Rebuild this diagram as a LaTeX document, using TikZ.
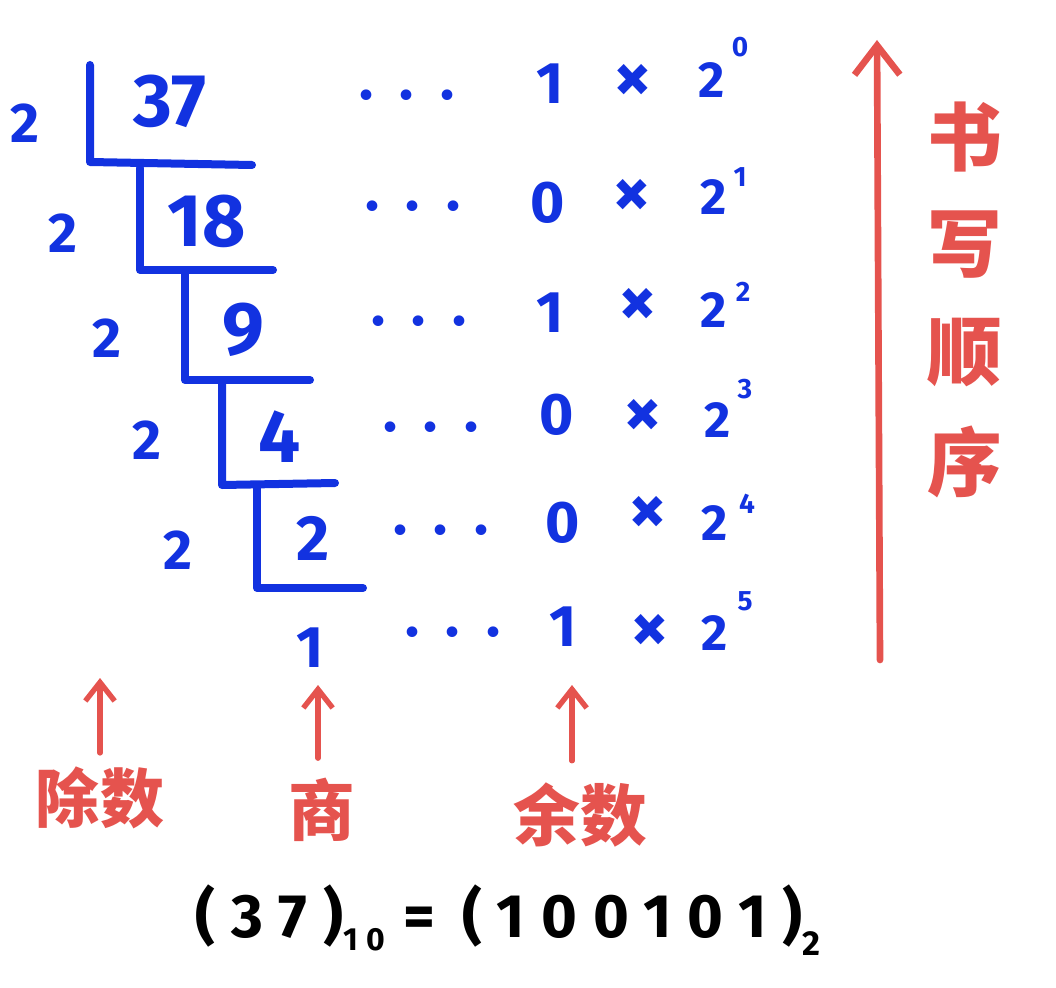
\documentclass[tikz,border=0pt]{standalone}
\usepackage{fontspec}
\usetikzlibrary{arrows.meta}
\setmainfont{Fira Sans}
\newfontfamily\cjk{Noto Sans CJK SC}
\newfontfamily\eqfont{Fira Sans}[LetterSpace=26]
\definecolor{pen}{HTML}{1232E0}
\definecolor{ink}{HTML}{E5534E}
\newcommand{\fs}[1]{\fontsize{#1}{#1}\selectfont}
\begin{document}
\begin{tikzpicture}[x=0.75pt,y=-0.75pt,
  every node/.style={inner sep=0pt,outer sep=0pt},
  divisor/.style={text=pen,font=\bfseries\fs{42}},
  quot/.style={text=pen,font=\bfseries\fs{56}},
  rem/.style={text=pen,font=\bfseries\fs{44}},
  timessign/.style={text=pen,font=\bfseries\fs{56}},
  base/.style={text=pen,font=\bfseries\fs{38}},
  sup/.style={text=pen,font=\bfseries\fs{21}},
  dotrow/.style={text=pen,font=\bfseries\fs{44},anchor=base},
  bracket/.style={draw=pen,line width=6pt,line cap=round,line join=round},
  lbl/.style={text=ink,font=\cjk\bfseries\fs{48}},
  order/.style={text=ink,font=\cjk\bfseries\fs{56}},
  bigarr/.style={draw=ink,line width=5pt,line cap=round,
    -{Straight Barb[length=22pt,width=34pt,line width=5pt]}},
  smallarr/.style={draw=ink,line width=4pt,line cap=round,
    -{Straight Barb[length=14pt,width=22pt,line width=4pt]}}
]
\useasboundingbox (0,0) rectangle (1056,988);

% division brackets
\draw[bracket] (90,65) -- (90,162) -- (252,165);
\draw[bracket] (140,168) -- (140,270) -- (273,270);
\draw[bracket] (185,273) -- (185,380) -- (310,380);
\draw[bracket] (222,383) -- (222,485) -- (335,483);
\draw[bracket] (257,487) -- (257,588) -- (363,588);

% divisors
\node[divisor] (d1) at (25,123) {2};
\node[divisor] (d2) at (63,233) {2};
\node[divisor] (d3) at (107,338) {2};
\node[divisor] (d4) at (147,440) {2};
\node[divisor] (d5) at (178,550) {2};

% quotients
\node[quot] (q1) at (170,101) {37};
\node[quot] (q2) at (207,221) {18};
\node[quot] (q3) at (243,330) {9};
\node[quot] (q4) at (280,437) {4};
\node[quot,font=\bfseries\fs{48}] (q5) at (313,538) {2};
\node[quot,font=\bfseries\fs{44}] (q6) at (310,648) {1};

% dots
\node[dotrow] (e1) at (407,100) {.\hspace{20pt}.\hspace{20pt}.};
\node[dotrow] (e2) at (413,210) {.\hspace{20pt}.\hspace{20pt}.};
\node[dotrow] (e3) at (419,325) {.\hspace{20pt}.\hspace{20pt}.};
\node[dotrow] (e4) at (431,431) {.\hspace{20pt}.\hspace{20pt}.};
\node[dotrow] (e5) at (441,534) {.\hspace{20pt}.\hspace{20pt}.};
\node[dotrow] (e6) at (453,636) {.\hspace{20pt}.\hspace{20pt}.};

% remainders
\node[rem] (r1) at (550,84) {1};
\node[rem] (r2) at (548,203) {0};
\node[rem] (r3) at (550,313) {1};
\node[rem] (r4) at (557,415) {0};
\node[rem] (r5) at (563,523) {0};
\node[rem] (r6) at (563,627) {1};

% times signs
\node[timessign] (x1) at (633,83) {×};
\node[timessign] (x2) at (632,198) {×};
\node[timessign] (x3) at (638,307) {×};
\node[timessign] (x4) at (643,418) {×};
\node[timessign] (x5) at (648,515) {×};
\node[timessign] (x6) at (650,633) {×};

% powers of two
\node[base] (p1) at (712,80) {2};
\node[base] (p2) at (714,197) {2};
\node[base] (p3) at (714,310) {2};
\node[base] (p4) at (718,420) {2};
\node[base] (p5) at (715,523) {2};
\node[base] (p6) at (715,633) {2};
\node[sup] (s1) at (740,47) {0};
\node[sup] (s2) at (740,177) {1};
\node[sup] (s3) at (743,292) {2};
\node[sup] (s4) at (745,389) {3};
\node[sup] (s5) at (747,504) {4};
\node[sup] (s6) at (745,601) {5};

% writing order arrow and text
\coordinate (ob) at (880,660);
\coordinate (ot) at (877,40);
\draw[bigarr] (ob) -- (ot);
\node[order] (o1) at (965,137) {书};
\node[order] (o2) at (965,245) {写};
\node[order] (o3) at (965,353) {顺};
\node[order] (o4) at (965,462) {序};

% bottom labels
\node[lbl] (l1) at (100,798) {除数};
\node[lbl,font=\cjk\bfseries\fs{50}] (l2) at (322,810) {商};
\node[lbl,font=\cjk\bfseries\fs{50}] (l3) at (580,815) {余数};
\coordinate (t1) at (100,678);
\coordinate (t2) at (318,685);
\coordinate (t3) at (572,685);
\draw[smallarr] (l1.north -| t1) ++(0,-14) -- (t1);
\draw[smallarr] (l2.north -| t2) ++(0,-20) -- (t2);
\draw[smallarr] (l3.north -| t3) ++(0,-22) -- (t3);

% result
\node[font=\eqfont\bfseries\fs{46}] (res) at (508,920)
  {(37)\raisebox{-10pt}{\fs{24}10}\hspace{14pt}=\hspace{20pt}(100101)\raisebox{-14pt}{\fs{26}2}};
\end{tikzpicture}
\end{document}
